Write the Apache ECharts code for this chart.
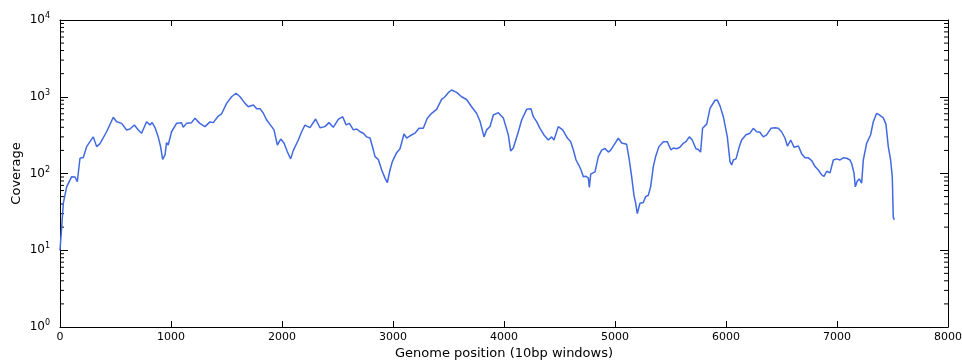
<!DOCTYPE html>
<html>
<head>
<meta charset="utf-8">
<script src="https://cdn.jsdelivr.net/npm/echarts@6/dist/echarts.min.js"></script>
<style>
  html, body { margin: 0; padding: 0; background: #fff; }
  #main { width: 962px; height: 360px; }
</style>
</head>
<body>
<div id="main"></div>
<script>
// genome position (10bp windows)
var positions = [0, 15, 30, 60, 105, 135, 156, 180, 210, 240, 270, 300, 330, 360, 375, 420, 480, 510, 555, 600,
  630, 670, 705, 735, 780, 810, 830, 855, 885, 906, 925, 946, 960, 975, 1005, 1050, 1095, 1110, 1140, 1185,
  1216, 1260, 1306, 1351, 1381, 1426, 1456, 1501, 1546, 1586, 1622, 1667, 1697, 1742, 1772, 1802, 1832, 1862, 1877, 1907,
  1928, 1942, 1958, 1988, 2018, 2048, 2078, 2102, 2147, 2177, 2207, 2252, 2303, 2342, 2387, 2423, 2462, 2507, 2547, 2577,
  2607, 2643, 2673, 2703, 2733, 2763, 2793, 2823, 2838, 2868, 2898, 2928, 2949, 2973, 2994, 3033, 3063, 3078, 3099, 3123,
  3153, 3198, 3234, 3273, 3309, 3348, 3393, 3438, 3468, 3498, 3528, 3573, 3618, 3663, 3708, 3753, 3784, 3820, 3844, 3874,
  3904, 3949, 3994, 4039, 4060, 4084, 4099, 4129, 4159, 4204, 4243, 4264, 4294, 4324, 4360, 4378, 4399, 4429, 4450, 4489,
  4529, 4571, 4601, 4625, 4649, 4676, 4694, 4715, 4739, 4760, 4769, 4781, 4820, 4850, 4880, 4910, 4940, 4961, 5000, 5030,
  5060, 5105, 5129, 5150, 5171, 5186, 5201, 5225, 5255, 5276, 5300, 5321, 5345, 5366, 5396, 5435, 5471, 5504, 5525, 5555,
  5585, 5615, 5640, 5669, 5696, 5729, 5750, 5771, 5789, 5826, 5856, 5901, 5922, 5946, 5976, 6012, 6036, 6051, 6066, 6090,
  6120, 6141, 6180, 6216, 6246, 6276, 6306, 6336, 6366, 6405, 6441, 6471, 6501, 6532, 6553, 6583, 6613, 6652, 6682, 6712,
  6742, 6772, 6802, 6832, 6862, 6883, 6907, 6937, 6967, 6997, 7027, 7057, 7087, 7117, 7132, 7153, 7165, 7183, 7201, 7222,
  7237, 7267, 7303, 7327, 7357, 7381, 7417, 7441, 7462, 7483, 7498, 7507, 7516];

var coverage = [10, 20, 41, 67, 91, 90, 78, 158, 162, 224, 260, 300, 224, 245, 235, 350, 540, 473, 450, 369,
  380, 428, 369, 334, 473, 430, 460, 400, 300, 224, 153, 175, 252, 235, 350, 450, 460, 400, 450, 460,
  524, 450, 408, 470, 460, 561, 600, 820, 1000, 1110, 1000, 820, 742, 780, 700, 700, 610, 497, 470, 408,
  370, 300, 235, 281, 250, 192, 155, 200, 273, 350, 428, 395, 513, 395, 408, 460, 400, 507, 550, 430,
  450, 370, 380, 350, 335, 300, 290, 202, 166, 152, 111, 87, 76, 111, 143, 187, 210, 205, 327, 290,
  310, 335, 388, 388, 524, 608, 686, 926, 1000, 1130, 1225, 1140, 1000, 920, 742, 610, 480, 300, 370, 410,
  578, 620, 530, 318, 196, 215, 205, 350, 497, 686, 700, 550, 473, 388, 318, 335, 273, 300, 273, 408,
  370, 290, 260, 202, 150, 127, 111, 91, 92, 87, 66, 98, 105, 166, 202, 212, 190, 202, 247, 288,
  250, 240, 150, 91, 52, 41, 30, 41, 42, 50, 52, 67, 123, 166, 224, 260, 260, 202, 215, 210,
  220, 247, 260, 300, 273, 210, 205, 190, 388, 440, 706, 900, 908, 760, 550, 300, 143, 129, 150, 155,
  224, 273, 320, 335, 388, 350, 345, 300, 318, 388, 395, 388, 350, 288, 228, 273, 220, 228, 180, 160,
  160, 147, 123, 111, 96, 92, 107, 102, 150, 155, 150, 160, 158, 150, 135, 102, 67, 80, 85, 75,
  150, 247, 320, 473, 608, 580, 530, 440, 224, 150, 91, 27, 25];

// minor tick values for the log axis (2..9 x 10^k)
var minorTickVals = [2, 3, 4, 5, 6, 7, 8, 9, 20, 30, 40, 50, 60, 70, 80, 90,
  200, 300, 400, 500, 600, 700, 800, 900, 2000, 3000, 4000, 5000, 6000, 7000, 8000, 9000];

var xMin = 0, xMax = 8000;

var lineData = positions.map(function (p, i) { return [p, coverage[i]]; });
var minorData = minorTickVals.map(function (v) { return [xMin, v]; });

var myChart = echarts.init(document.getElementById('main'));

var font = 'DejaVu Sans';
var logLabel = {
  show: true,
  margin: 10,
  fontFamily: font,
  formatter: function (v) {
    var e = Math.round(Math.log10(v));
    return '{b|10}{s|' + e + '}';
  },
  rich: {
    b: { fontSize: 12, color: '#000', fontFamily: font, lineHeight: 16 },
    s: { fontSize: 8, color: '#000', fontFamily: font, verticalAlign: 'top', lineHeight: 10 }
  }
};

option = {
  animation: false,
  grid: { left: 60, right: 14, top: 20, bottom: 33, containLabel: false, outerBoundsMode: 'none' },
  xAxis: [{
    type: 'value',
    min: xMin,
    max: xMax,
    interval: 1000,
    name: 'Genome position (10bp windows)',
    nameLocation: 'middle',
    nameGap: 20,
    nameMoveOverlap: false,
    nameTextStyle: { fontFamily: font, fontSize: 13, color: '#000' },
    axisLine: { show: true, onZero: false, lineStyle: { color: '#000', width: 1 } },
    axisTick: { show: true, inside: true, length: 6, lineStyle: { color: '#000' } },
    axisLabel: {
      fontFamily: font, fontSize: 11, color: '#000', margin: 5,
      formatter: function (v) { return String(v); }
    },
    splitLine: { show: false }
  }, {
    type: 'value',
    position: 'top',
    min: xMin,
    max: xMax,
    interval: 1000,
    axisLine: { show: true, onZero: false, lineStyle: { color: '#000', width: 1 } },
    axisTick: { show: true, inside: true, length: 6, lineStyle: { color: '#000' } },
    axisLabel: { show: false },
    splitLine: { show: false }
  }],
  yAxis: [{
    type: 'log',
    logBase: 10,
    min: 1,
    max: 10000,
    name: 'Coverage',
    nameLocation: 'middle',
    nameGap: 37,
    nameMoveOverlap: false,
    nameTextStyle: { fontFamily: font, fontSize: 13, color: '#000' },
    axisLine: { show: true, onZero: false, lineStyle: { color: '#000', width: 1 } },
    axisTick: { show: true, inside: true, length: 8, lineStyle: { color: '#000' } },
    axisLabel: logLabel,
    splitLine: { show: false }
  }, {
    type: 'log',
    logBase: 10,
    position: 'right',
    min: 1,
    max: 10000,
    axisLine: { show: true, onZero: false, lineStyle: { color: '#000', width: 1 } },
    axisTick: { show: true, inside: true, length: 8, lineStyle: { color: '#000' } },
    axisLabel: { show: false },
    splitLine: { show: false }
  }],
  series: [{
    name: 'coverage',
    type: 'line',
    xAxisIndex: 0,
    yAxisIndex: 0,
    data: lineData,
    showSymbol: false,
    smooth: false,
    lineStyle: { color: '#4169e1', width: 1.5 },
    z: 3
  }, {
    name: 'minorTicks',
    type: 'custom',
    xAxisIndex: 0,
    yAxisIndex: 0,
    silent: true,
    clip: false,
    data: minorData,
    renderItem: function (params, api) {
      var left = api.coord([xMin, api.value(1)]);
      var right = api.coord([xMax, api.value(1)]);
      var style = { stroke: '#000', lineWidth: 1 };
      return {
        type: 'group',
        children: [
          { type: 'line', shape: { x1: left[0], y1: left[1], x2: left[0] + 4, y2: left[1] }, style: style },
          { type: 'line', shape: { x1: right[0], y1: right[1], x2: right[0] - 4, y2: right[1] }, style: style }
        ]
      };
    }
  }]
};

myChart.setOption(option);
</script>
</body>
</html>
